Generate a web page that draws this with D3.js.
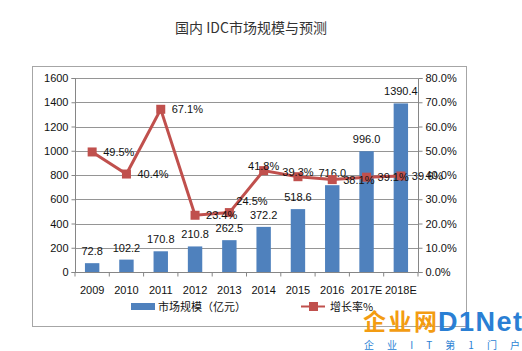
<!DOCTYPE html>
<html>
<head>
<meta charset="utf-8">
<script src="https://cdn.jsdelivr.net/npm/d3@7"></script>
<style>
  body { margin: 0; background: #fff; }
  svg { display: block; font-family: "Liberation Sans", "Noto Sans CJK SC", sans-serif; }
</style>
</head>
<body>
<div id="chart"></div>
<script>
// data
const years = ["2009", "2010", "2011", "2012", "2013", "2014", "2015", "2016", "2017E", "2018E"];
const marketSize = [72.8, 102.2, 170.8, 210.8, 262.5, 372.2, 518.6, 716.0, 996.0, 1390.4];
const growthRate = [49.5, 40.4, 67.1, 23.4, 24.5, 41.8, 39.3, 38.1, 39.1, 39.6];
const leftTicks = [0, 200, 400, 600, 800, 1000, 1200, 1400, 1600];
const rightTicks = [0, 10, 20, 30, 40, 50, 60, 70, 80];
// where each growth label sits relative to its marker
const rateLabelPlace = ["right", "right", "right", "right", "aboveRight", "above", "above", "right", "right", "right"];

const width = 522, height = 351;
const plot = { left: 75, right: 418, top: 78, bottom: 272 };
const barColor = "#4f81bd", lineColor = "#c0504d";

const svg = d3.select("#chart").append("svg")
  .attr("width", width)
  .attr("height", height);

// outer chart frame
svg.append("rect")
  .attr("x", 32.5).attr("y", 66.5)
  .attr("width", 434).attr("height", 260)
  .attr("fill", "none").attr("stroke", "#a6a6a6");

svg.append("text")
  .attr("x", 251).attr("y", 33)
  .attr("text-anchor", "middle")
  .attr("font-family", "'Noto Sans CJK SC', sans-serif")
  .attr("font-size", 14)
  .attr("fill", "#333")
  .text("国内 IDC市场规模与预测");

const x = d3.scaleBand().domain(years).range([plot.left, plot.right]).paddingInner(0.58).paddingOuter(0.29);
const xStep = d3.scaleBand().domain(years).range([plot.left, plot.right]);
const yL = d3.scaleLinear().domain([0, 1600]).range([plot.bottom, plot.top]);
const yR = d3.scaleLinear().domain([0, 80]).range([plot.bottom, plot.top]);
const cx = i => xStep(years[i]) + xStep.bandwidth() / 2;

// gridlines
svg.append("g")
  .selectAll("line")
  .data(leftTicks.slice(1))
  .join("line")
  .attr("x1", plot.left).attr("x2", plot.right)
  .attr("y1", d => Math.round(yL(d)) + 0.5).attr("y2", d => Math.round(yL(d)) + 0.5)
  .attr("stroke", "#959595");

// bars
svg.append("g")
  .selectAll("rect")
  .data(marketSize)
  .join("rect")
  .attr("x", (d, i) => x(years[i]))
  .attr("y", d => yL(d))
  .attr("width", x.bandwidth())
  .attr("height", d => yL(0) - yL(d))
  .attr("fill", barColor);

// axes
const axisL = svg.append("g")
  .attr("transform", `translate(${plot.left + 0.5},0)`)
  .call(d3.axisLeft(yL).tickValues(leftTicks).tickSize(4).tickFormat(d3.format("d")));
const axisR = svg.append("g")
  .attr("transform", `translate(${plot.right + 0.5},0)`)
  .call(d3.axisRight(yR).tickValues(rightTicks).tickSize(4).tickFormat(d => d.toFixed(1) + "%"));
// x axis with ticks between categories
const axisX = svg.append("g")
  .attr("transform", `translate(0,${plot.bottom + 0.5})`)
  .call(d3.axisBottom(xStep).tickSize(0).tickPadding(14));
axisX.selectAll(".tick").append("line")
  .attr("x1", -xStep.step() / 2).attr("x2", -xStep.step() / 2)
  .attr("y2", 4).attr("stroke", "#868686");
axisX.append("line")
  .attr("x1", plot.right).attr("x2", plot.right).attr("y2", 4).attr("stroke", "#868686");

[axisL, axisR, axisX].forEach(a => {
  a.select(".domain").attr("stroke", "#868686");
  a.selectAll(".tick line").attr("stroke", "#868686");
  a.selectAll("text").attr("font-size", 11).attr("fill", "#111");
});
axisL.select(".domain").attr("d", `M-4,${plot.top + 0.5}H0V${plot.bottom + 0.5}H-4`);
axisR.select(".domain").attr("d", `M4,${plot.top + 0.5}H0V${plot.bottom + 0.5}H4`);
axisX.select(".domain").attr("d", `M${plot.left},0H${plot.right}`);

// bar value labels
svg.append("g")
  .selectAll("text")
  .data(marketSize)
  .join("text")
  .attr("x", (d, i) => x(years[i]) + x.bandwidth() / 2)
  .attr("y", d => yL(d) - 8)
  .attr("text-anchor", "middle")
  .attr("font-size", 11)
  .attr("fill", "#111")
  .text(d => d.toFixed(1));

// growth line
const line = d3.line()
  .x((d, i) => cx(i))
  .y(d => yR(d));
svg.append("path")
  .datum(growthRate)
  .attr("d", line)
  .attr("fill", "none")
  .attr("stroke", lineColor)
  .attr("stroke-width", 3);
svg.append("g")
  .selectAll("rect")
  .data(growthRate)
  .join("rect")
  .attr("x", (d, i) => cx(i) - 4.5)
  .attr("y", d => yR(d) - 4.5)
  .attr("width", 9).attr("height", 9)
  .attr("fill", lineColor);

const placeOffset = {
  right: { dx: 11, dy: 4, anchor: "start" },
  aboveRight: { dx: 7, dy: -8, anchor: "start" },
  above: { dx: 0, dy: -1, anchor: "middle" }
};
svg.append("g")
  .selectAll("text")
  .data(growthRate)
  .join("text")
  .attr("x", (d, i) => cx(i) + placeOffset[rateLabelPlace[i]].dx)
  .attr("y", (d, i) => yR(d) + placeOffset[rateLabelPlace[i]].dy)
  .attr("text-anchor", (d, i) => placeOffset[rateLabelPlace[i]].anchor)
  .attr("font-size", 11)
  .attr("fill", "#111")
  .text(d => d.toFixed(1) + "%");

// legend
const legend = svg.append("g").attr("font-family", "'Noto Sans CJK SC', sans-serif");
legend.append("rect").attr("x", 131).attr("y", 303).attr("width", 24).attr("height", 7).attr("fill", barColor);
legend.append("text").attr("x", 158).attr("y", 311).attr("font-size", 11).attr("fill", "#111").text("市场规模（亿元）");
legend.append("line").attr("x1", 301).attr("x2", 325).attr("y1", 306.5).attr("y2", 306.5).attr("stroke", lineColor).attr("stroke-width", 2);
legend.append("rect").attr("x", 309).attr("y", 302).attr("width", 9).attr("height", 9).attr("fill", lineColor);
legend.append("text").attr("x", 330).attr("y", 311).attr("font-size", 11).attr("fill", "#111").text("增长率%");

// watermark
const wm = svg.append("g").attr("font-weight", "bold");
wm.append("text").attr("x", 363).attr("y", 330).attr("font-size", 23)
  .attr("font-family", "'Noto Sans CJK SC', sans-serif")
  .attr("fill", "#f39c12").attr("textLength", 74).text("企业网");
wm.append("text").attr("x", 438).attr("y", 331).attr("font-size", 27)
  .attr("font-family", "'Liberation Sans', sans-serif")
  .attr("fill", "#2a7fd4").attr("textLength", 84).text("D1Net");
wm.append("text").attr("x", 364).attr("y", 349).attr("font-size", 10).attr("font-weight", "normal")
  .attr("font-family", "'Noto Sans CJK SC', sans-serif")
  .attr("fill", "#2a7fd4").attr("textLength", 156).text("企业IT第1门户");
</script>
</body>
</html>
